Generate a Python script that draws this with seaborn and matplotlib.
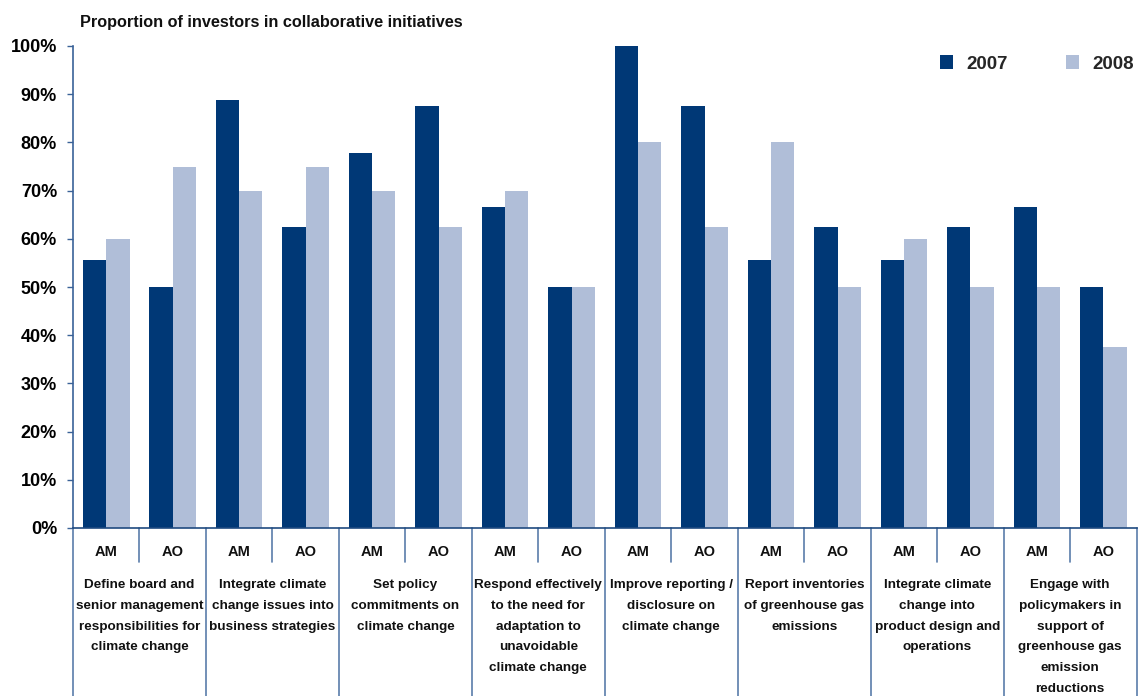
import matplotlib
matplotlib.use("Agg")
import matplotlib.pyplot as plt
import matplotlib.transforms as mtransforms
import numpy as np
import pandas as pd
import seaborn as sns

# ---- data -------------------------------------------------------------
groups = [
    "Define board and\nsenior management\nresponsibilities for\nclimate change",
    "Integrate climate\nchange issues into\nbusiness strategies",
    "Set policy\ncommitments on\nclimate change",
    "Respond effectively\nto the need for\nadaptation to\nunavoidable\nclimate change",
    "Improve reporting /\ndisclosure on\nclimate change",
    "Report inventories\nof greenhouse gas\nemissions",
    "Integrate climate\nchange into\nproduct design and\noperations",
    "Engage with\npolicymakers in\nsupport of\ngreenhouse gas\nemission\nreductions",
]
investor_types = ["AM", "AO"]
years = ["2007", "2008"]

values_2007 = [55.6, 50.0, 88.9, 62.5, 77.8, 87.5, 66.7, 50.0,
               100.0, 87.5, 55.6, 62.5, 55.6, 62.5, 66.7, 50.0]
values_2008 = [60.0, 75.0, 70.0, 75.0, 70.0, 62.5, 70.0, 50.0,
               80.0, 62.5, 80.0, 50.0, 60.0, 50.0, 50.0, 37.5]

title = "Proportion of investors in collaborative initiatives"

# ---- styling ----------------------------------------------------------
navy = "#003876"
light = "#B0BED8"
axis_blue = "#3A6298"
sep_blue = "#5A7DAA"
font = ["Liberation Sans", "DejaVu Sans"]
text_col = "#111111"

sns.set_theme(style="white")
plt.rcParams["font.family"] = font

n_slots = len(groups) * len(investor_types)
slot = np.arange(n_slots)
df = pd.DataFrame({
    "slot": np.concatenate([slot, slot]),
    "year": [years[0]] * n_slots + [years[1]] * n_slots,
    "value": values_2007 + values_2008,
})

W, H = 1140, 696
fig = plt.figure(figsize=(W / 100, H / 100), dpi=100)
ax_left, ax_right, ax_top, ax_bottom = 73, 1136.7, 46, 528
ax = fig.add_axes([ax_left / W, 1 - ax_bottom / H,
                   (ax_right - ax_left) / W, (ax_bottom - ax_top) / H])

sns.barplot(data=df, x="slot", y="value", hue="year",
            palette=[navy, light], width=0.7, saturation=1,
            linewidth=0, errorbar=None, ax=ax)

ax.set_xlim(-0.5, n_slots - 0.5)
ax.set_ylim(0, 100)
ax.set_yticks(np.arange(0, 101, 10))
ax.set_yticklabels([f"{v}%" for v in range(0, 101, 10)],
                   fontsize=13, fontweight="bold", color="black")
ax.tick_params(axis="y", direction="out", length=4.5, width=1,
               color=axis_blue, pad=7, left=True)
ax.set_xticks([])
ax.set_xlabel("")
ax.set_ylabel("")
for s in ["top", "right"]:
    ax.spines[s].set_visible(False)
ax.spines["left"].set_color(axis_blue)
ax.spines["left"].set_linewidth(1.2)
ax.spines["bottom"].set_color("#1F4A80")
ax.spines["bottom"].set_linewidth(1.2)

# ---- category table under the axis -----------------------------------
px_h = ax_bottom - ax_top
def ay(ypx):
    return (ax_bottom - ypx) / px_h

trans = mtransforms.blended_transform_factory(ax.transData, ax.transAxes)

# group separators run to the bottom of the figure
for i in range(len(groups) + 1):
    x = i * 2 - 0.5
    ax.plot([x, x], [0, ay(H + 5)], color=sep_blue, lw=1.2,
            transform=trans, clip_on=False)
# short separators between AM and AO
for i in range(len(groups)):
    x = i * 2 + 0.5
    ax.plot([x, x], [0, ay(562)], color=sep_blue, lw=1.2,
            transform=trans, clip_on=False)

for k in range(n_slots):
    ax.text(k, ay(552), investor_types[k % 2], transform=trans,
            ha="center", va="center", fontsize=10.5, fontweight="bold",
            color=text_col)

for i, g in enumerate(groups):
    ax.text(i * 2 + 0.5, ay(579), g, transform=trans, ha="center",
            va="top", fontsize=9.7, fontweight="bold",
            color=text_col, linespacing=1.98, multialignment="center")

# ---- title and legend --------------------------------------------------
fig.text(80 / W, 1 - 27.5 / H, title, ha="left", va="baseline",
         fontsize=11.7, fontweight="bold", color=text_col)

sns.move_legend(ax, loc="center left",
                bbox_to_anchor=(940 / W, 1 - 64 / H),
                bbox_transform=fig.transFigure, ncol=2, frameon=False,
                title=None, borderpad=0, borderaxespad=0,
                handlelength=0.7, handleheight=0.7, handletextpad=0.7,
                columnspacing=3.1,
                prop={"weight": "bold", "size": 13.5, "family": font})

fig.savefig("out.png", dpi=100)
